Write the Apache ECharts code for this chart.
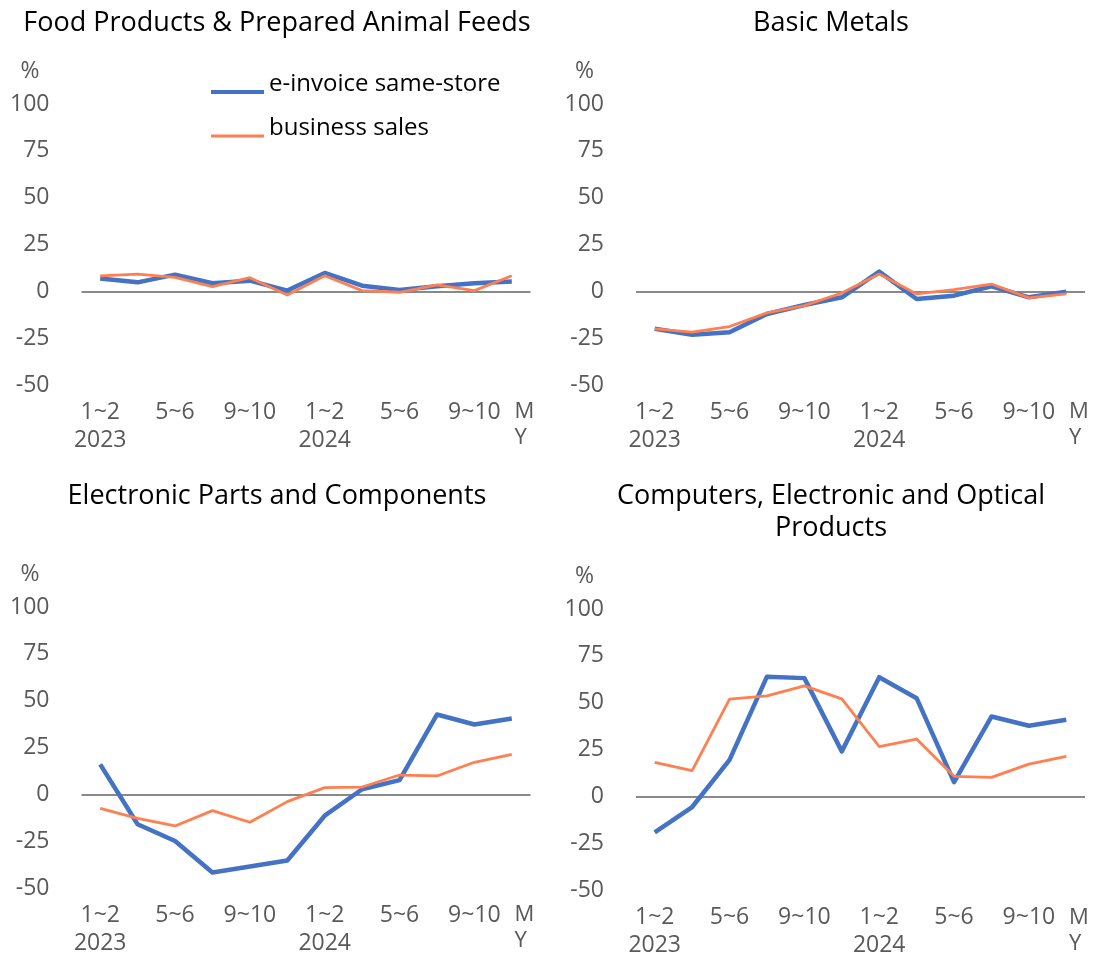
<!DOCTYPE html>
<html>
<head>
<meta charset="utf-8">
<script src="https://cdn.jsdelivr.net/npm/echarts@6/dist/echarts.min.js"></script>
<style>
  html, body { margin: 0; padding: 0; background: #fff; }
  #chart { width: 1097px; height: 959px; }
</style>
</head>
<body>
<div id="chart"></div>
<script>
// Bi-monthly periods, Jan-Feb 2023 through Nov-Dec 2024
const months = ['1~2', '3~4', '5~6', '7~8', '9~10', '11~12', '1~2', '3~4', '5~6', '7~8', '9~10', '11~12'];
const years = ['2023', '', '', '', '', '', '2024', '', '', '', '', ''];
const yTicks = [-50, -25, 0, 25, 50, 75, 100];

const panelTitles = [
  'Food Products & Prepared Animal Feeds',
  'Basic Metals',
  'Electronic Parts and Components',
  'Computers, Electronic and Optical\nProducts'
];
const seriesNames = ['e-invoice same-store', 'business sales'];

// Year-on-year change, %
const foodInvoice = [6.9, 4.8, 8.9, 4.3, 5.7, 0.4, 9.8, 3.0, 0.7, 2.7, 4.3, 5.3];
const foodSales = [8.3, 9.2, 7.4, 2.5, 7.3, -2.0, 8.3, 0.4, -0.5, 3.5, 0.4, 8.3];
const metalsInvoice = [-20.0, -23.2, -21.8, -12.1, -7.3, -3.2, 10.5, -4.1, -2.3, 2.7, -3.2, -0.2];
const metalsSales = [-20.0, -21.8, -18.8, -11.5, -7.6, -0.9, 9.2, -1.4, 0.9, 3.9, -3.5, -1.4];
const partsInvoice = [16.0, -16.0, -24.9, -41.7, -38.5, -35.3, -11.4, 2.7, 7.6, 42.6, 37.3, 40.5];
const partsSales = [-7.5, -12.8, -16.9, -8.7, -14.9, -3.9, 3.6, 3.9, 10.3, 9.8, 17.1, 21.3];
const computersInvoice = [-19.2, -5.7, 19.5, 63.9, 63.1, 24.0, 63.6, 52.4, 7.6, 42.6, 37.7, 40.9];
const computersSales = [18.1, 13.7, 51.9, 53.6, 59.0, 52.0, 26.6, 30.6, 10.7, 10.1, 17.2, 21.3];

const panelData = [
  [foodInvoice, foodSales],
  [metalsInvoice, metalsSales],
  [partsInvoice, partsSales],
  [computersInvoice, computersSales]
];

const FONT = "'Open Sans', 'Noto Sans', sans-serif";
const TICK_COLOR = '#595959';
const BLUE = '#4472C4';
const ORANGE = '#FF7F50';

const categories = months.map((m, i) => years[i] ? m + '\n' + years[i] : m);

// Panel boxes: plot area rectangles and title positions
const panels = [
  { left: 81.5, top: 104, width: 449, height: 281, titleX: 277, titleTop: 7 },
  { left: 636, top: 104, width: 449, height: 281, titleX: 831, titleTop: 7 },
  { left: 81.5, top: 607, width: 449, height: 281, titleX: 277, titleTop: 480 },
  { left: 636, top: 609, width: 449, height: 282, titleX: 831, titleTop: 480 }
];

const grid = [], xAxis = [], yAxis = [], series = [], title = [], graphic = [];

panels.forEach((p, k) => {
  grid.push({ left: p.left, top: p.top, width: p.width, height: p.height, containLabel: false });
  title.push({
    text: panelTitles[k],
    left: p.titleX,
    top: p.titleTop,
    textAlign: 'center',
    padding: 0,
    textStyle: { fontFamily: FONT, fontSize: 27, fontWeight: 'normal', color: '#000', lineHeight: 32 }
  });
  xAxis.push({
    type: 'category',
    gridIndex: k,
    data: categories,
    boundaryGap: true,
    axisLine: { show: false },
    axisTick: { show: false },
    axisLabel: {
      interval: 1,
      margin: 13,
      fontFamily: FONT,
      fontSize: 23,
      lineHeight: 28,
      color: TICK_COLOR
    }
  });
  yAxis.push({
    type: 'value',
    gridIndex: k,
    min: yTicks[0],
    max: yTicks[yTicks.length - 1],
    interval: 25,
    axisLine: { show: false },
    axisTick: { show: false },
    splitLine: { show: false },
    axisLabel: { margin: 32, fontFamily: FONT, fontSize: 23, color: TICK_COLOR }
  });
  const [inv, sales] = panelData[k];
  series.push({
    name: seriesNames[0],
    type: 'line',
    xAxisIndex: k,
    yAxisIndex: k,
    data: inv,
    symbol: 'none',
    lineStyle: { color: BLUE, width: 4.5, join: 'round' },
    itemStyle: { color: BLUE },
    z: 3,
    markLine: {
      silent: true,
      symbol: 'none',
      z: 1,
      label: { show: false },
      lineStyle: { color: '#898989', width: 2, type: 'solid' },
      data: [{ yAxis: 0 }]
    }
  });
  series.push({
    name: seriesNames[1],
    type: 'line',
    xAxisIndex: k,
    yAxisIndex: k,
    data: sales,
    symbol: 'none',
    lineStyle: { color: ORANGE, width: 2.8, join: 'round' },
    itemStyle: { color: ORANGE },
    z: 4
  });

  // unit and axis captions
  graphic.push({
    type: 'text',
    left: p.left - 61,
    top: p.top - 44,
    style: { text: '%', font: '23px ' + FONT, fill: TICK_COLOR }
  });
  graphic.push({
    type: 'text',
    left: p.left + p.width - 16,
    top: p.top + p.height + 14,
    style: { text: 'M\nY', font: '22px ' + FONT, fill: TICK_COLOR, lineHeight: 26, align: 'center' }
  });
});

// Legend keys: a bar sitting slightly below the text centre
const legendKeys = [
  'path://M0,0L0,0ZM0,20L0,20ZM0,16h53v4h-53Z',
  'path://M0,0L0,0ZM0,20L0,20ZM0,16.5h53v3h-53Z'
];

const chart = echarts.init(document.getElementById('chart'), null, { renderer: 'canvas' });
chart.setOption({
  backgroundColor: '#fff',
  animation: false,
  title: title,
  grid: grid,
  xAxis: xAxis,
  yAxis: yAxis,
  series: series,
  graphic: graphic,
  legend: {
    orient: 'vertical',
    left: 211,
    top: 72,
    padding: 0,
    itemWidth: 53,
    itemHeight: 20,
    itemGap: 20,
    symbolKeepAspect: false,
    data: seriesNames.map((n, i) => ({ name: n, icon: legendKeys[i] })),
    textStyle: { fontFamily: FONT, fontSize: 24, color: '#000', lineHeight: 24 }
  }
});
</script>
</body>
</html>
